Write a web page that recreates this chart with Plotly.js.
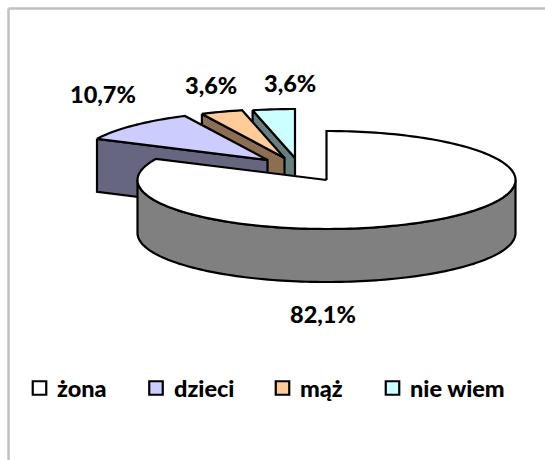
<!DOCTYPE html>
<html><head><meta charset="utf-8">
<script src="https://cdn.plot.ly/plotly-3.0.1.min.js"></script>
<style>html,body{margin:0;padding:0;background:#fff}#c{width:545px;height:460px}</style></head>
<body><div id="c"></div>
<script>
var categories = ["żona", "dzieci", "mąż", "nie wiem"];
var values = [82.1, 10.7, 3.6, 3.6];
var labels = ["82,1%", "10,7%", "3,6%", "3,6%"];
var topColors = ["#FFFFFF", "#CCCCFF", "#FFCC99", "#CCFFFF"];
var sideColors = ["#808080", "#666680", "#8C6E52", "#668080"];
// geometry of the tilted pie, in pixels
var apexX = [326.5, 267.5, 284.5, 295];
var apexY = [180, 160, 158, 158];
var labelX = [323, 103, 211, 290];
var labelY = [314, 94, 85, 83];
var legendMarkX = [39.5, 156, 282.5, 392.5];
var legendTextX = [55, 171.5, 298, 408];
var rx = 189, ry = 49, depth = 53;
var font = "Lato, 'Noto Sans', sans-serif";

var total = values.reduce(function (a, b) { return a + b; }, 0);
function pt(i, deg, dz) {
  var r = deg * Math.PI / 180;
  return [apexX[i] + rx * Math.sin(r), apexY[i] - ry * Math.cos(r) + (dz || 0)];
}
function arc(i, from, to, dz) {
  var n = Math.max(2, Math.ceil(Math.abs(to - from) / 1.5)), out = [];
  for (var k = 0; k <= n; k++) out.push(pt(i, from + (to - from) * k / n, dz));
  return out;
}
function poly(points, fill) {
  return {
    type: "scatter", mode: "lines", hoverinfo: "skip", showlegend: false,
    x: points.map(function (p) { return p[0]; }),
    y: points.map(function (p) { return p[1]; }),
    fill: "toself", fillcolor: fill,
    line: { color: "#000", width: 2.2, simplify: false }
  };
}
var starts = [], acc = 0;
values.forEach(function (v) { starts.push(acc); acc += v / total * 360; });
function endOf(i) { return starts[i] + values[i] / total * 360; }

var traces = [];
// back slices first, last category furthest back
for (var i = values.length - 1; i >= 1; i--) {
  var a = pt(i, starts[i]), c = [apexX[i], apexY[i]];
  var cut = [a, c, [c[0], c[1] + depth], [a[0], a[1] + depth], a];
  traces.push(poly(cut, sideColors[i]));
  var face = [c].concat(arc(i, starts[i], endOf(i))).concat([c]);
  traces.push(poly(face, topColors[i]));
}
// front slice: outer wall then top face
var wall = arc(0, 90, 270).concat(arc(0, 270, 90, depth));
wall.push(wall[0]);
traces.push(poly(wall, sideColors[0]));
var mc = [apexX[0], apexY[0]];
traces.push(poly([mc].concat(arc(0, starts[0], endOf(0))).concat([mc]), topColors[0]));
// legend markers
traces.push({
  type: "scatter", mode: "markers", hoverinfo: "skip", showlegend: false,
  x: legendMarkX, y: categories.map(function () { return 388; }),
  marker: { symbol: "square", size: 13.5, color: topColors, line: { color: "#000", width: 2.2 } }
});

var annotations = labels.map(function (t, i) {
  return { x: labelX[i], y: labelY[i], text: t, showarrow: false,
    xanchor: "center", yanchor: "middle", font: { family: font, size: 23.5, color: "#000", weight: 900 } };
}).concat(categories.map(function (t, i) {
  return { x: legendTextX[i], y: 388, text: t, showarrow: false,
    xanchor: "left", yanchor: "middle", font: { family: font, size: 23.5, color: "#000", weight: 900 } };
}));

var hidden = { visible: false, fixedrange: true };
var layout = {
  width: 545, height: 460, margin: { l: 0, r: 0, t: 0, b: 0 },
  paper_bgcolor: "#fff", plot_bgcolor: "#fff", showlegend: false,
  xaxis: Object.assign({ range: [0, 545] }, hidden),
  yaxis: Object.assign({ range: [460, 0] }, hidden),
  annotations: annotations,
  shapes: [
    { type: "line", xref: "x", yref: "y", x0: 8.5, x1: 8.5, y0: 8.5, y1: 460, line: { color: "#C0C0C0", width: 2.5 } },
    { type: "line", xref: "x", yref: "y", x0: 8.5, x1: 545, y0: 8.5, y1: 8.5, line: { color: "#C0C0C0", width: 2.5 } }
  ]
};
Plotly.newPlot("c", traces, layout, { displayModeBar: false, staticPlot: true });
</script></body></html>
